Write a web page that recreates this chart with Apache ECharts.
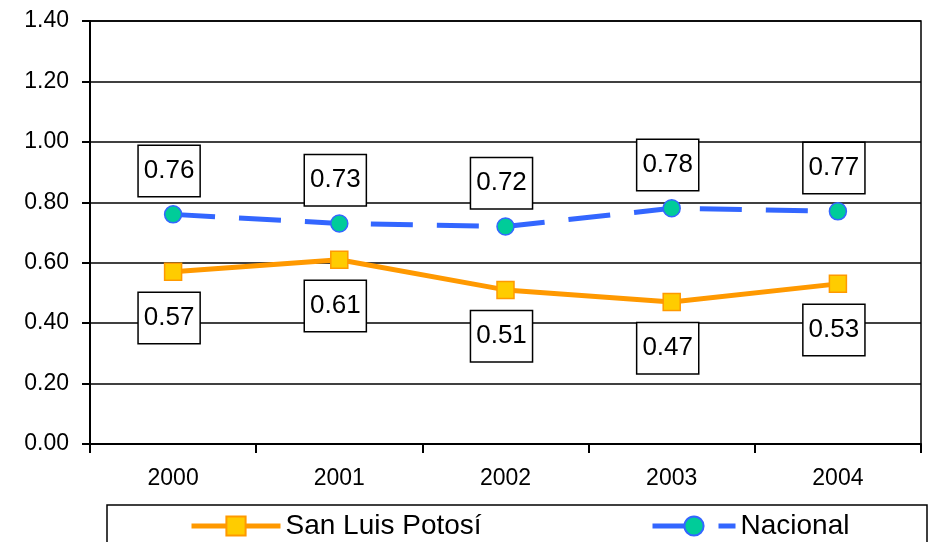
<!DOCTYPE html>
<html>
<head>
<meta charset="utf-8">
<script src="https://cdn.jsdelivr.net/npm/echarts@6/dist/echarts.min.js"></script>
<style>
  html, body { margin: 0; padding: 0; background: #fff; }
  #chart { width: 932px; height: 542px; }
</style>
</head>
<body>
<div id="chart"></div>
<script>
// Years on the horizontal axis
const years = ['2000', '2001', '2002', '2003', '2004'];
// Indicator values per year
const sanLuisPotosi = [0.57, 0.61, 0.51, 0.47, 0.53];
const nacional = [0.76, 0.73, 0.72, 0.78, 0.77];
// Series names
const seriesNames = ['San Luis Potosí', 'Nacional'];

const FONT = '"Liberation Sans", Arial, sans-serif';

const boxLabel = (position, distance) => ({
  show: true,
  position: position,
  distance: distance,
  offset: [-4, 0],
  formatter: p => p.value.toFixed(2),
  fontFamily: FONT,
  fontSize: 26,
  color: '#000',
  lineHeight: 30,
  backgroundColor: '#fff',
  borderColor: '#000',
  borderWidth: 1.5,
  padding: [10, 5, 10, 5]
});

const chart = echarts.init(document.getElementById('chart'), null, { renderer: 'canvas' });

chart.setOption({
  animation: false,
  backgroundColor: '#fff',
  grid: {
    left: 90, right: 11, top: 21, height: 423,
    show: true, borderColor: '#000', borderWidth: 1.5, backgroundColor: 'transparent'
  },
  xAxis: {
    type: 'category',
    data: years,
    boundaryGap: true,
    axisLine: { lineStyle: { color: '#000', width: 2 } },
    axisTick: { show: true, length: 9, lineStyle: { color: '#000', width: 2 } },
    axisLabel: { fontFamily: FONT, fontSize: 23, color: '#000', margin: 23 }
  },
  yAxis: {
    type: 'value',
    min: 0, max: 1.4, interval: 0.2,
    axisLine: { show: true, lineStyle: { color: '#000', width: 2 } },
    axisTick: { show: true, length: 8, lineStyle: { color: '#000', width: 2 } },
    splitLine: { lineStyle: { color: '#000', width: 1.5 } },
    axisLabel: { fontFamily: FONT, fontSize: 23, color: '#000', margin: 21,
                 formatter: v => v.toFixed(2) }
  },
  graphic: [{
    type: 'rect',
    shape: { x: 107, y: 505, width: 820, height: 60 },
    style: { fill: '#fff', stroke: '#000', lineWidth: 1.5 },
    z: 0
  }],
  legend: [
    {
      data: [seriesNames[0]], left: 189, top: 511, padding: 0,
      itemWidth: 89, itemHeight: 24,
      lineStyle: { width: 5 },
      textStyle: { fontFamily: FONT, fontSize: 28, color: '#000', lineHeight: 30 },
      z: 5
    },
    {
      data: [seriesNames[1]], left: 650, top: 511, padding: 0,
      itemWidth: 83, itemHeight: 24,
      lineStyle: { width: 5 },
      textStyle: { fontFamily: FONT, fontSize: 28, color: '#000', lineHeight: 30 },
      z: 5
    }
  ],
  series: [
    {
      name: seriesNames[0],
      type: 'line',
      data: sanLuisPotosi,
      symbol: 'rect',
      symbolSize: 17,
      lineStyle: { color: '#FF9900', width: 5 },
      itemStyle: { color: '#FFCC00', borderColor: '#FF9900', borderWidth: 1.5 },
      label: boxLabel('bottom', 12),
      z: 3
    },
    {
      name: seriesNames[1],
      type: 'line',
      data: nacional,
      symbol: 'circle',
      symbolSize: 17,
      lineStyle: { color: '#3366FF', width: 5, type: [42, 24] },
      itemStyle: { color: '#00CC99', borderColor: '#3366FF', borderWidth: 1.5 },
      label: boxLabel('top', 9),
      z: 3
    }
  ]
});
</script>
</body>
</html>
